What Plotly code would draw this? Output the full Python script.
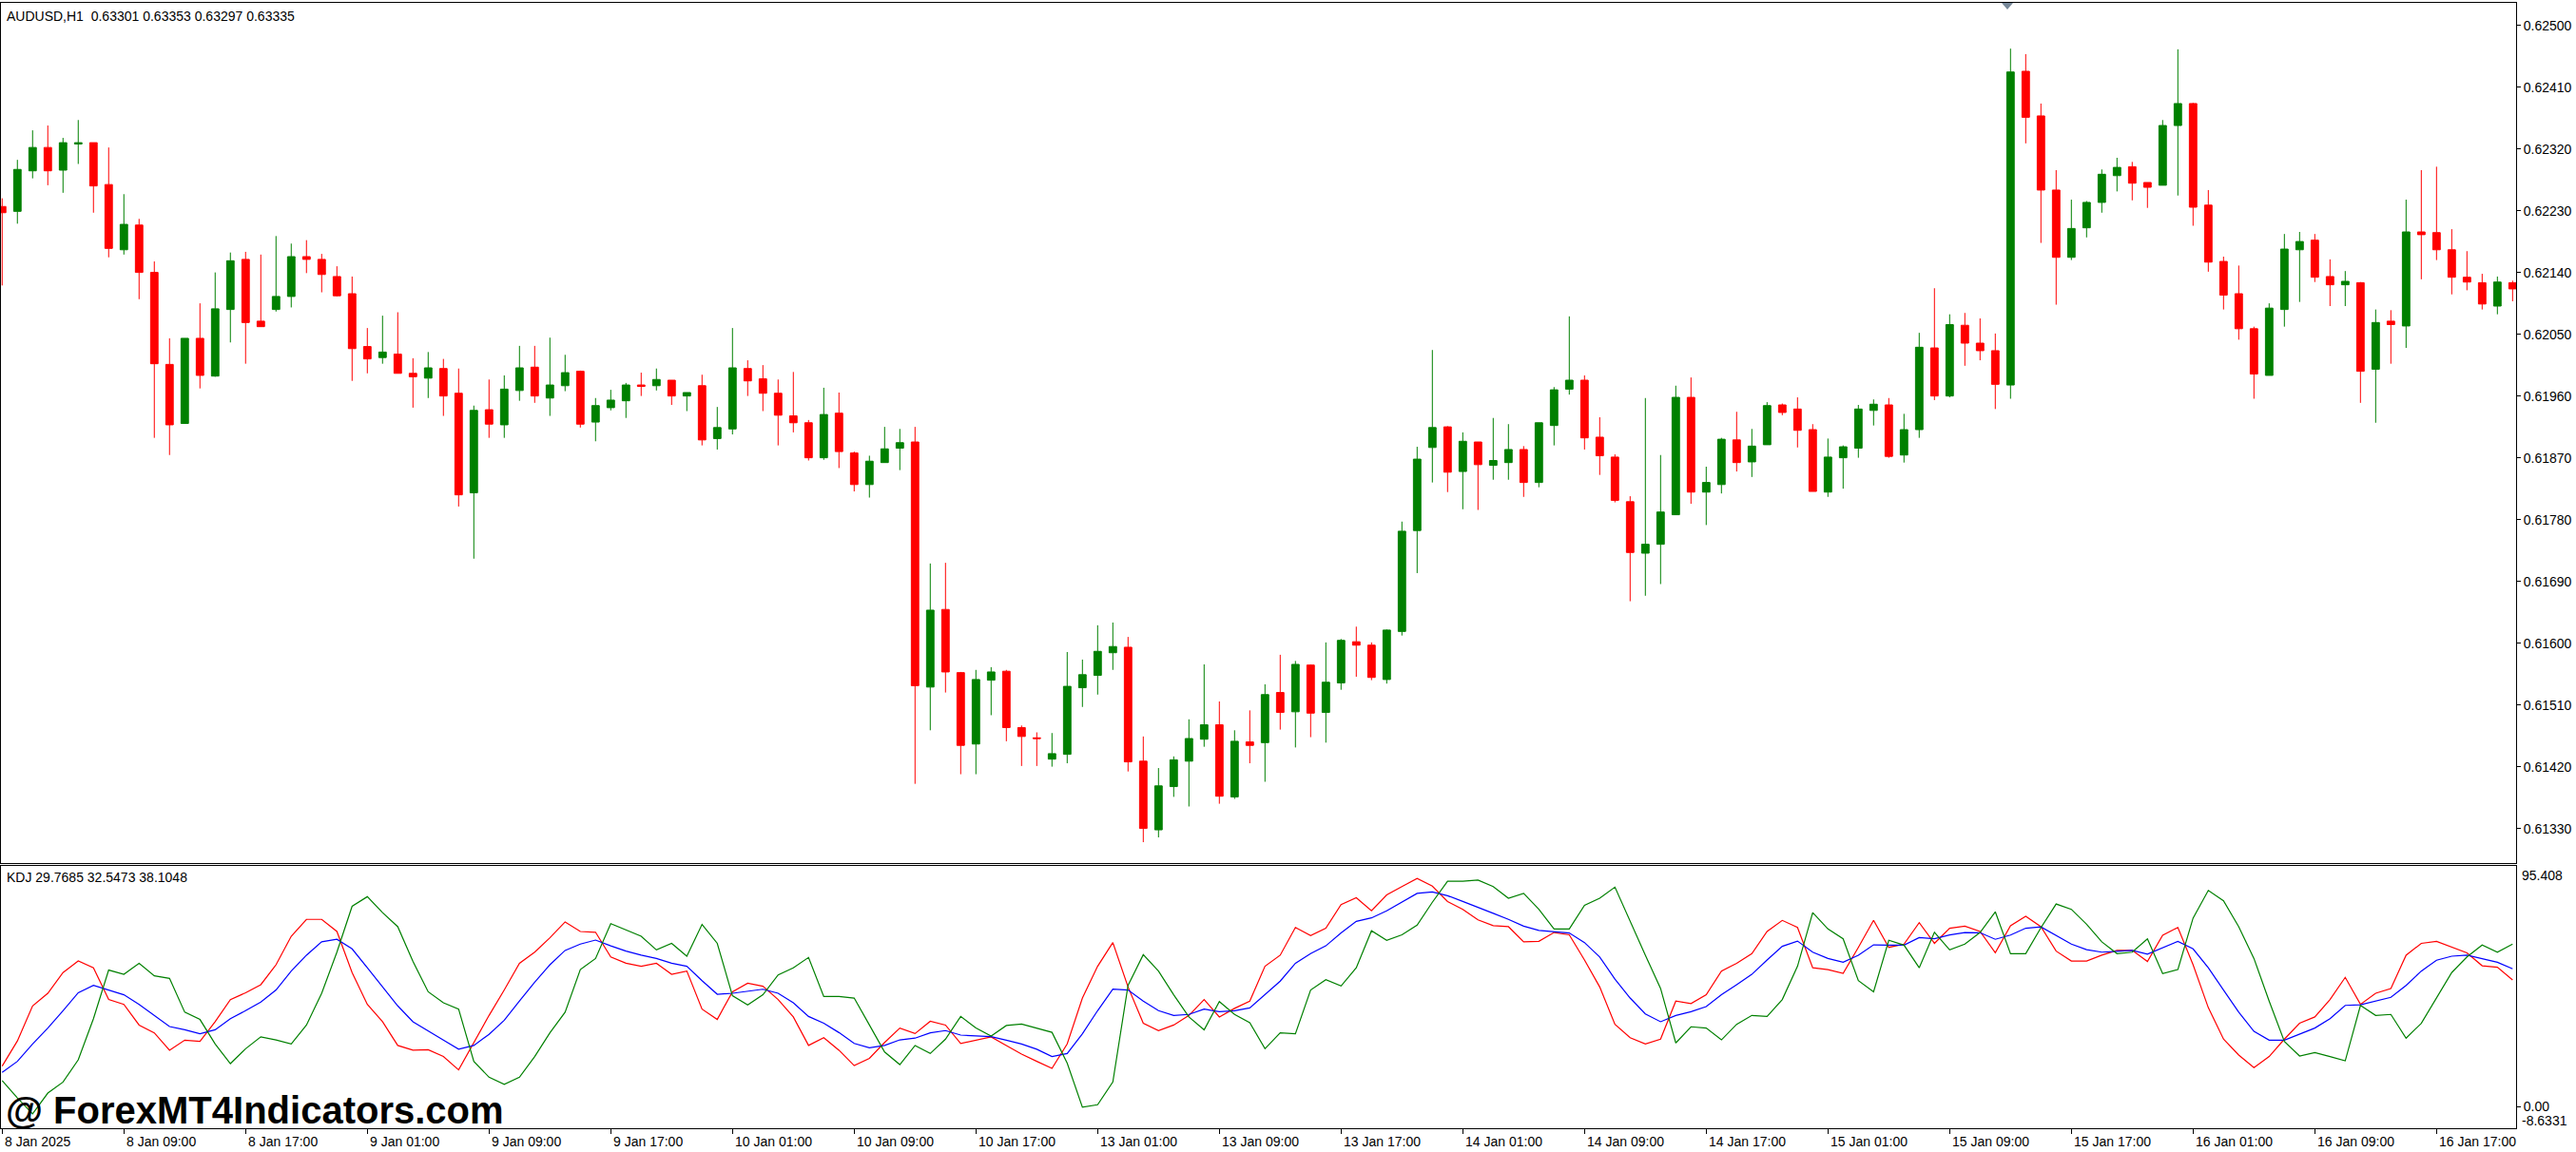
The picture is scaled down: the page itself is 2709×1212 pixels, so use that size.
import plotly.graph_objects as go

# AUDUSD H1 candles, one value per bar (8 Jan 01:00 .. 16 Jan ~22:00)
opens = [
    0.62236, 0.62229, 0.62288, 0.62322, 0.62289, 0.62327, 0.62329, 0.62268, 0.62173, 0.62209,
    0.62140, 0.62006, 0.61920, 0.62044, 0.61989, 0.62086, 0.62159, 0.62069, 0.62086, 0.62105,
    0.62163, 0.62159, 0.62134, 0.62109, 0.62032, 0.62016, 0.62021, 0.61993, 0.61986, 0.62000,
    0.61964, 0.61819, 0.61940, 0.61918, 0.61968, 0.62002, 0.61957, 0.61975, 0.61996, 0.61922,
    0.61943, 0.61953, 0.61976, 0.61975, 0.61983, 0.61960, 0.61975, 0.61898, 0.61912, 0.62000,
    0.61985, 0.61964, 0.61931, 0.61921, 0.61870, 0.61935, 0.61877, 0.61831, 0.61863, 0.61884,
    0.61893, 0.61536, 0.61649, 0.61557, 0.61453, 0.61546, 0.61559, 0.61477, 0.61462, 0.61431,
    0.61438, 0.61535, 0.61553, 0.61586, 0.61594, 0.61428, 0.61328, 0.61391, 0.61428, 0.61460,
    0.61481, 0.61376, 0.61456, 0.61455, 0.61528, 0.61500, 0.61568, 0.61499, 0.61542, 0.61602,
    0.61597, 0.61547, 0.61617, 0.61764, 0.61885, 0.61915, 0.61850, 0.61893, 0.61859, 0.61863,
    0.61882, 0.61834, 0.61917, 0.61970, 0.61983, 0.61900, 0.61871, 0.61806, 0.61731, 0.61744,
    0.61787, 0.61958, 0.61820, 0.61831, 0.61896, 0.61864, 0.61889, 0.61947, 0.61941, 0.61911,
    0.61820, 0.61870, 0.61884, 0.61939, 0.61947, 0.61874, 0.61911, 0.62030, 0.61960, 0.62063,
    0.62037, 0.62026, 0.61976, 0.62433, 0.62368, 0.62260, 0.62162, 0.62205, 0.62242, 0.62281,
    0.62294, 0.62271, 0.62267, 0.62354, 0.62386, 0.62238, 0.62156, 0.62109, 0.62058, 0.61990,
    0.62086, 0.62173, 0.62187, 0.62134, 0.62122, 0.62125, 0.61999, 0.62069, 0.62062, 0.62199,
    0.62198, 0.62173, 0.62133, 0.62125, 0.62091, 0.62125,
]
highs = [
    0.62248, 0.62304, 0.62347, 0.62354, 0.62336, 0.62362, 0.62329, 0.62322, 0.62254, 0.62218,
    0.62156, 0.62044, 0.62044, 0.62095, 0.62140, 0.62169, 0.62170, 0.62166, 0.62193, 0.62182,
    0.62187, 0.62167, 0.62149, 0.62134, 0.62059, 0.62077, 0.62082, 0.62015, 0.62024, 0.62014,
    0.62000, 0.61946, 0.61984, 0.61990, 0.62033, 0.62033, 0.62045, 0.62020, 0.61997, 0.61957,
    0.61969, 0.61979, 0.61994, 0.62000, 0.61983, 0.61965, 0.61991, 0.61944, 0.62059, 0.62012,
    0.62005, 0.61984, 0.61995, 0.61925, 0.61972, 0.61965, 0.61879, 0.61873, 0.61915, 0.61912,
    0.61915, 0.61716, 0.61717, 0.61558, 0.61561, 0.61565, 0.61561, 0.61480, 0.61470, 0.61469,
    0.61587, 0.61576, 0.61626, 0.61630, 0.61609, 0.61464, 0.61418, 0.61435, 0.61489, 0.61569,
    0.61515, 0.61473, 0.61502, 0.61540, 0.61583, 0.61574, 0.61569, 0.61601, 0.61606, 0.61624,
    0.61601, 0.61620, 0.61777, 0.61886, 0.62027, 0.61916, 0.61907, 0.61893, 0.61928, 0.61919,
    0.61887, 0.61921, 0.61973, 0.62076, 0.61990, 0.61929, 0.61875, 0.61814, 0.61957, 0.61874,
    0.61975, 0.61987, 0.61857, 0.61899, 0.61937, 0.61912, 0.61951, 0.61949, 0.61958, 0.61919,
    0.61898, 0.61888, 0.61947, 0.61955, 0.61957, 0.61934, 0.62052, 0.62117, 0.62079, 0.62081,
    0.62073, 0.62051, 0.62466, 0.62458, 0.62386, 0.62289, 0.62246, 0.62244, 0.62290, 0.62307,
    0.62301, 0.62271, 0.62362, 0.62465, 0.62387, 0.62260, 0.62163, 0.62150, 0.62061, 0.62095,
    0.62196, 0.62199, 0.62196, 0.62159, 0.62142, 0.62126, 0.62086, 0.62085, 0.62246, 0.62289,
    0.62294, 0.62203, 0.62171, 0.62138, 0.62134, 0.62128,
]
lows = [
    0.62121, 0.62211, 0.62277, 0.62267, 0.62256, 0.62298, 0.62227, 0.62162, 0.62166, 0.62101,
    0.61899, 0.61874, 0.61920, 0.61971, 0.61988, 0.62038, 0.62007, 0.62061, 0.62083, 0.62089,
    0.62139, 0.62111, 0.62105, 0.61982, 0.61993, 0.62007, 0.61993, 0.61943, 0.61957, 0.61931,
    0.61799, 0.61723, 0.61899, 0.61899, 0.61953, 0.61950, 0.61931, 0.61967, 0.61914, 0.61894,
    0.61939, 0.61928, 0.61960, 0.61968, 0.61947, 0.61938, 0.61888, 0.61882, 0.61904, 0.61960,
    0.61938, 0.61888, 0.61907, 0.61866, 0.61867, 0.61855, 0.61821, 0.61812, 0.61863, 0.61852,
    0.61395, 0.61473, 0.61528, 0.61409, 0.61409, 0.61495, 0.61457, 0.61421, 0.61421, 0.61420,
    0.61425, 0.61507, 0.61525, 0.61561, 0.61413, 0.61310, 0.61317, 0.61376, 0.61362, 0.61449,
    0.61366, 0.61373, 0.61425, 0.61398, 0.61474, 0.61448, 0.61463, 0.61455, 0.61532, 0.61551,
    0.61546, 0.61541, 0.61611, 0.61702, 0.61834, 0.61820, 0.61795, 0.61794, 0.61838, 0.61838,
    0.61813, 0.61827, 0.61888, 0.61962, 0.61882, 0.61845, 0.61805, 0.61661, 0.61669, 0.61686,
    0.61787, 0.61803, 0.61772, 0.61818, 0.61850, 0.61842, 0.61889, 0.61932, 0.61885, 0.61821,
    0.61813, 0.61825, 0.61870, 0.61917, 0.61870, 0.61863, 0.61899, 0.61954, 0.61958, 0.62004,
    0.62012, 0.61941, 0.61956, 0.62328, 0.62183, 0.62093, 0.62158, 0.62191, 0.62227, 0.62258,
    0.62245, 0.62234, 0.62267, 0.62252, 0.62208, 0.62141, 0.62086, 0.62042, 0.61956, 0.61990,
    0.62061, 0.62097, 0.62126, 0.62091, 0.62091, 0.61950, 0.61921, 0.62007, 0.62030, 0.62130,
    0.62158, 0.62108, 0.62114, 0.62086, 0.62079, 0.62098,
]
closes = [
    0.62227, 0.62290, 0.62322, 0.62288, 0.62329, 0.62329, 0.62266, 0.62175, 0.62210, 0.62140,
    0.62007, 0.61918, 0.62044, 0.61990, 0.62087, 0.62157, 0.62067, 0.62061, 0.62105, 0.62163,
    0.62159, 0.62137, 0.62106, 0.62029, 0.62014, 0.62024, 0.61993, 0.61988, 0.62001, 0.61960,
    0.61816, 0.61939, 0.61919, 0.61970, 0.62001, 0.61960, 0.61976, 0.61994, 0.61919, 0.61946,
    0.61954, 0.61976, 0.61974, 0.61984, 0.61960, 0.61965, 0.61896, 0.61914, 0.62001, 0.61982,
    0.61964, 0.61932, 0.61921, 0.61870, 0.61933, 0.61879, 0.61831, 0.61865, 0.61883, 0.61892,
    0.61538, 0.61648, 0.61558, 0.61451, 0.61547, 0.61558, 0.61477, 0.61464, 0.61461, 0.61439,
    0.61537, 0.61554, 0.61588, 0.61595, 0.61427, 0.61330, 0.61392, 0.61430, 0.61461, 0.61481,
    0.61377, 0.61457, 0.61451, 0.61525, 0.61499, 0.61569, 0.61498, 0.61543, 0.61604, 0.61597,
    0.61550, 0.61619, 0.61763, 0.61868, 0.61914, 0.61849, 0.61894, 0.61860, 0.61866, 0.61882,
    0.61834, 0.61921, 0.61969, 0.61983, 0.61899, 0.61873, 0.61808, 0.61732, 0.61744, 0.61791,
    0.61958, 0.61820, 0.61834, 0.61897, 0.61863, 0.61887, 0.61946, 0.61936, 0.61910, 0.61821,
    0.61871, 0.61886, 0.61941, 0.61948, 0.61872, 0.61911, 0.62031, 0.61960, 0.62064, 0.62037,
    0.62026, 0.61977, 0.62432, 0.62366, 0.62260, 0.62162, 0.62204, 0.62242, 0.62283, 0.62293,
    0.62270, 0.62264, 0.62354, 0.62386, 0.62235, 0.62155, 0.62107, 0.62058, 0.61992, 0.62088,
    0.62174, 0.62185, 0.62133, 0.62122, 0.62127, 0.61996, 0.62067, 0.62064, 0.62199, 0.62195,
    0.62173, 0.62133, 0.62126, 0.62094, 0.62126, 0.62116,
]

# KDJ sub-window lines (red, blue, green)
k_line = [
    16.0, 26.0, 39.9, 44.9, 53.1, 57.7, 55.0, 42.4, 40.5, 32.3,
    29.2, 22.3, 26.3, 25.8, 33.6, 42.4, 45.1, 48.3, 56.2, 67.5,
    74.2, 74.2, 69.4, 53.1, 40.5, 33.6, 24.2, 22.3, 22.5, 19.8,
    14.5, 25.4, 36.1, 46.2, 56.8, 61.2, 66.9, 73.2, 69.4, 69.1,
    59.3, 56.8, 55.6, 56.8, 52.4, 53.7, 38.6, 34.5, 45.5, 48.9,
    47.7, 42.4, 35.5, 24.2, 27.3, 22.3, 16.2, 19.1, 25.4, 31.1,
    28.9, 33.8, 32.3, 25.0, 26.3, 27.6, 24.2, 20.8, 17.9, 15.1,
    24.8, 43.0, 55.6, 65.0, 47.4, 33.0, 30.1, 32.3, 36.1, 42.4,
    35.5, 38.9, 41.8, 55.6, 60.0, 71.0, 67.8, 70.7, 80.1, 82.8,
    77.6, 83.9, 87.2, 90.4, 87.4, 81.3, 78.2, 74.0, 71.7, 71.3,
    65.3, 65.5, 69.0, 68.1, 58.1, 47.4, 32.6, 27.3, 24.8, 26.7,
    41.8, 40.8, 44.3, 53.7, 56.8, 60.6, 69.4, 73.8, 71.0, 55.0,
    54.3, 52.8, 63.1, 73.8, 63.1, 64.4, 72.9, 64.7, 70.7, 71.5,
    69.4, 61.0, 71.7, 75.4, 71.3, 61.6, 57.7, 57.7, 60.0, 61.9,
    61.9, 57.5, 67.9, 71.0, 56.2, 39.2, 26.7, 20.4, 15.4, 19.8,
    26.7, 33.0, 35.5, 42.4, 51.2, 40.5, 44.9, 46.8, 60.0, 64.7,
    65.5, 63.1, 60.9, 55.8, 55.2, 50.2,
]
d_line = [
    13.5, 17.9, 24.8, 31.1, 38.0, 45.1, 48.0, 46.2, 44.3, 40.5,
    36.1, 31.7, 30.4, 28.8, 30.4, 34.8, 38.0, 41.4, 46.2, 53.7,
    60.0, 65.3, 66.3, 62.5, 55.0, 47.4, 39.9, 33.6, 29.8, 26.3,
    22.7, 24.2, 28.6, 34.2, 41.8, 49.3, 56.2, 61.9, 64.4, 66.0,
    63.7, 61.6, 60.0, 58.7, 56.8, 55.6, 49.9, 44.5, 44.9, 45.8,
    46.5, 44.9, 41.1, 35.7, 33.0, 29.3, 25.0, 23.3, 24.2, 26.4,
    27.1, 29.2, 30.1, 28.3, 27.9, 27.7, 26.3, 24.8, 22.7, 19.8,
    21.0, 28.8, 38.0, 46.5, 46.2, 41.8, 38.0, 36.1, 36.5, 38.6,
    37.6, 38.0, 39.1, 44.3, 49.7, 56.8, 60.6, 63.7, 68.8, 73.4,
    74.8, 77.6, 81.0, 84.5, 85.1, 83.6, 81.3, 78.8, 76.6, 74.2,
    71.5, 69.8, 69.3, 68.8, 65.0, 59.3, 50.5, 43.0, 36.7, 33.6,
    36.1, 37.6, 39.6, 44.3, 48.3, 52.4, 58.1, 63.5, 65.6, 61.2,
    58.7, 57.2, 60.0, 64.1, 64.0, 64.0, 67.0, 66.5, 68.0, 69.0,
    68.9, 66.3, 68.0, 70.7, 71.2, 67.8, 64.4, 62.2, 61.2, 61.5,
    61.9, 60.4, 63.1, 65.5, 62.5, 55.0, 46.2, 37.4, 29.8, 26.3,
    26.3, 28.8, 31.1, 34.8, 40.1, 40.3, 41.8, 43.3, 48.0, 53.7,
    58.0, 59.6, 60.0, 58.7, 57.2, 54.6,
]
j_line = [
    10.3, 3.4, -2.9, 5.3, 9.7, 18.5, 34.8, 54.1, 52.4, 56.8,
    51.8, 50.8, 37.4, 34.5, 24.8, 17.0, 22.9, 27.6, 26.4, 24.8,
    32.3, 44.9, 61.2, 79.4, 83.2, 76.9, 71.3, 57.5, 45.5, 41.1,
    38.6, 17.9, 11.6, 8.8, 11.6, 19.8, 29.2, 37.4, 54.3, 58.7,
    72.5, 70.0, 67.5, 62.1, 64.7, 59.6, 72.2, 64.7, 43.9, 40.3,
    44.3, 52.2, 55.0, 59.1, 43.6, 43.6, 43.0, 32.3, 21.6, 16.6,
    24.2, 21.0, 26.7, 35.7, 31.1, 27.9, 32.1, 32.7, 31.1, 29.4,
    17.2, -0.3, 0.7, 9.7, 48.0, 60.2, 53.7, 44.3, 35.5, 30.4,
    41.6, 36.5, 33.2, 22.9, 29.2, 28.8, 46.2, 50.3, 47.8, 55.0,
    69.7, 65.9, 68.1, 71.9, 81.0, 89.3, 89.3, 89.8, 87.2, 82.6,
    84.5, 78.2, 70.4, 70.4, 79.8, 82.6, 87.0, 73.2, 60.0, 46.8,
    25.2, 31.6, 31.1, 26.4, 32.6, 36.1, 35.7, 42.4, 55.6, 76.9,
    70.4, 66.5, 49.9, 45.5, 65.9, 64.0, 55.0, 69.1, 62.1, 64.4,
    69.0, 77.2, 60.6, 60.6, 70.9, 80.3, 78.2, 72.3, 65.3, 60.6,
    61.2, 66.5, 52.7, 54.3, 74.7, 85.7, 81.6, 71.3, 58.7, 41.8,
    25.8, 20.0, 21.4, 19.8, 18.1, 40.1, 36.1, 36.5, 27.1, 33.0,
    43.0, 53.1, 59.3, 64.0, 61.2, 64.4,
]

price_ticks = [0.61330, 0.61420, 0.61510, 0.61600, 0.61690, 0.61780, 0.61870,
               0.61960, 0.62050, 0.62140, 0.62230, 0.62320, 0.62410, 0.62500]
time_labels = ["8 Jan 2025", "8 Jan 09:00", "8 Jan 17:00", "9 Jan 01:00", "9 Jan 09:00",
               "9 Jan 17:00", "10 Jan 01:00", "10 Jan 09:00", "10 Jan 17:00", "13 Jan 01:00",
               "13 Jan 09:00", "13 Jan 17:00", "14 Jan 01:00", "14 Jan 09:00", "14 Jan 17:00",
               "15 Jan 01:00", "15 Jan 09:00", "15 Jan 17:00", "16 Jan 01:00", "16 Jan 09:00",
               "16 Jan 17:00"]
label_step = 8
kdj_max, kdj_min = 95.408, -8.6331

W, H = 2709, 1212
FONT = "Liberation Sans"
GREEN, RED, BLUE = "#008000", "#FF0000", "#0000FF"


def px_x(p):
    return p / W


def px_y(p):
    return 1 - p / H


bars = list(range(len(opens)))
label_bars = [i * label_step for i in range(len(time_labels))]
x_range = [-0.08, len(opens) - 0.77]

fig = go.Figure()
fig.add_trace(go.Candlestick(
    x=bars, open=opens, high=highs, low=lows, close=closes,
    increasing=dict(line=dict(color=GREEN, width=1), fillcolor=GREEN),
    decreasing=dict(line=dict(color=RED, width=1), fillcolor=RED),
    whiskerwidth=0, hoverinfo="skip", xaxis="x", yaxis="y",
))
for vals, col in [(k_line, RED), (d_line, BLUE), (j_line, GREEN)]:
    fig.add_trace(go.Scatter(
        x=bars, y=vals, mode="lines", line=dict(color=col, width=1.2),
        hoverinfo="skip", xaxis="x2", yaxis="y2",
    ))

axis_common = dict(showgrid=False, zeroline=False, showline=True, mirror=True,
                   linecolor="black", linewidth=1)
tickfont = dict(family=FONT, size=14, color="black")

fig.update_layout(
    width=W, height=H,
    margin=dict(l=0, r=0, t=0, b=0),
    paper_bgcolor="white", plot_bgcolor="white",
    showlegend=False,
    boxgap=0.3,
    xaxis=dict(domain=[px_x(1), px_x(2646)], range=x_range, anchor="y",
               showticklabels=False, ticks="", rangeslider=dict(visible=False),
               **axis_common),
    yaxis=dict(domain=[px_y(908), px_y(3)], range=[0.612796, 0.625327], anchor="x",
               side="right", tickvals=price_ticks,
               ticktext=[f"{p:.5f}" for p in price_ticks],
               ticks="outside", ticklen=4, tickcolor="black", tickfont=tickfont,
               **axis_common),
    xaxis2=dict(domain=[px_x(1), px_x(2646)], range=x_range, anchor="y2",
                tickvals=label_bars, showticklabels=False,
                ticks="outside", ticklen=5, tickcolor="black",
                **axis_common),
    yaxis2=dict(domain=[px_y(1187), px_y(911)], range=[kdj_min, kdj_max], anchor="x2",
                side="right", tickvals=[0], ticktext=["0.00"],
                ticks="outside", ticklen=4, tickcolor="black", tickfont=tickfont,
                **axis_common),
)

annotations = [
    dict(text="AUDUSD,H1\u00a0\u00a00.63301 0.63353 0.63297 0.63335",
         x=px_x(5), y=px_y(17)),
    dict(text="KDJ 29.7685 32.5473 38.1048", x=px_x(5), y=px_y(923)),
    dict(text=f"{kdj_max:.3f}", x=px_x(2650), y=px_y(921)),
    dict(text=f"{kdj_min:.4f}", x=px_x(2650), y=px_y(1179)),
]
for a in annotations:
    fig.add_annotation(xref="paper", yref="paper", xanchor="left", yanchor="middle",
                       showarrow=False, font=tickfont, **a)

for b, lab in zip(label_bars, time_labels):
    fig.add_annotation(text=lab, xref="x2", yref="paper", x=b, y=px_y(1201),
                       xanchor="left", yanchor="middle", xshift=1,
                       showarrow=False, font=tickfont)

fig.add_annotation(text="<b>@ ForexMT4Indicators.com</b>", xref="paper", yref="paper",
                   x=px_x(4), y=px_y(1168), xanchor="left", yanchor="middle",
                   showarrow=False, font=dict(family=FONT, size=40, color="black"))

# chart shift marker at the top of the price window
fig.add_shape(type="path", xref="paper", yref="paper",
              path=f"M {px_x(2105)},{px_y(3)} L {px_x(2117)},{px_y(3)} L {px_x(2111)},{px_y(10)} Z",
              fillcolor="#778899", line=dict(width=0))

fig.write_html("out.html", config={"displayModeBar": False},
               post_script="document.body.style.margin='0';document.body.style.overflow='hidden';")
